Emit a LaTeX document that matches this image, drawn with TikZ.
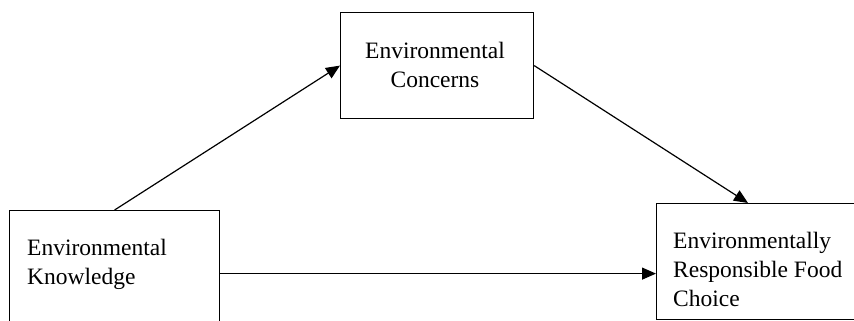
\documentclass[tikz,border=0pt]{standalone}
\usepackage{fontspec}
\setmainfont{Liberation Serif}
\usetikzlibrary{arrows.meta}
\begin{document}
\begin{tikzpicture}[x=1pt,y=-1pt,
  box/.style={draw,line width=1.2pt,anchor=north west,inner sep=0pt},
  txt/.style={inner sep=0pt,font=\fontsize{23.5pt}{29pt}\selectfont},
  link/.style={line width=1.2pt,-{Triangle[length=14pt,width=12pt]}}]
\clip (0,0) rectangle (854,321);
\node[box,minimum width=210,minimum height=126] (know) at (9,210) {};
\node[box,minimum width=193,minimum height=106] (conc) at (340,12) {};
\node[box,minimum width=214,minimum height=116] (choice) at (656,203) {};
\node[txt,anchor=north west,align=left] (knowtxt) at (27,239) {Environmental\\Knowledge};
\node[txt,anchor=north,align=center] (conctxt) at (435,42) {Environmental\\Concerns};
\node[txt,anchor=north west,align=left] (choicetxt) at (673,232) {Environmentally\\Responsible Food\\Choice};
\draw[link] (know.north) -- (conc.west);
\draw[link] (conc.east) -- ([xshift=92pt]choice.north west);
\draw[link] (know.east) -- (know.east -| choice.west);
\end{tikzpicture}
\end{document}
